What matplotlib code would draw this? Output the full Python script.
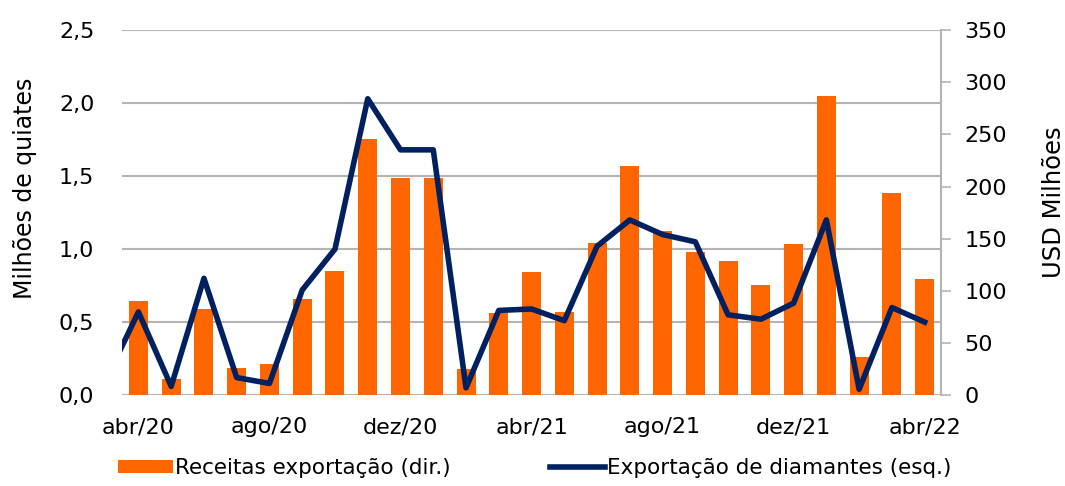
import numpy as np
import matplotlib
matplotlib.use('Agg')
import matplotlib.pyplot as plt

# meses abr/20 .. abr/22
meses = ['abr/20', 'mai/20', 'jun/20', 'jul/20', 'ago/20', 'set/20', 'out/20', 'nov/20',
         'dez/20', 'jan/21', 'fev/21', 'mar/21', 'abr/21', 'mai/21', 'jun/21', 'jul/21',
         'ago/21', 'set/21', 'out/21', 'nov/21', 'dez/21', 'jan/22', 'fev/22', 'mar/22',
         'abr/22']

# receitas de exportacao (USD milhoes, eixo direito)
receitas = [90, 15, 83, 26, 30, 92, 119, 246, 208, 208, 25, 79, 118, 80, 146, 220,
            157, 137, 129, 106, 145, 287, 37, 194, 111]

# exportacao de diamantes (milhoes de quilates, eixo esquerdo); inclui mar/20 (cortado)
diamantes_mar20 = 0.10
diamantes = [0.57, 0.06, 0.80, 0.12, 0.08, 0.72, 1.00, 2.03, 1.68, 1.68, 0.05, 0.58,
             0.59, 0.51, 1.02, 1.20, 1.10, 1.05, 0.55, 0.52, 0.63, 1.20, 0.04, 0.60,
             0.50]

laranja = '#FF6600'
azul = '#002060'
cinza = '#B4B4B4'

plt.rcParams['font.family'] = 'DejaVu Sans'

fig = plt.figure(figsize=(10.65, 4.86), dpi=100)
ax = fig.add_axes([0.1146, 0.187, 0.769, 0.751])
ax2 = ax.twinx()

x = np.arange(len(meses))

# barras no eixo direito
ax.bar(x, receitas, width=0.58, color=laranja, label='Receitas exportação (dir.)', zorder=2)
ax.set_ylim(0, 350)
ax.set_yticks(np.arange(0, 351, 50))

# grade segundo o eixo esquerdo (0,5 em 0,5)
for v in np.arange(0, 2.51, 0.5):
    ax.axhline(v * 350 / 2.5, color=cinza, lw=1.5, zorder=1)

ax.set_xlim(-0.5, len(meses) - 0.5)
ax.set_xticks(x[::4])
ax.set_xticklabels(meses[::4])

# linha no eixo esquerdo
xl = np.concatenate([[-1], x])
yl = [diamantes_mar20] + diamantes
ax2.plot(xl, yl, color=azul, lw=4, label='Exportação de diamantes (esq.)', zorder=3)
ax2.set_ylim(0, 2.5)
ax2.set_yticks(np.arange(0, 2.51, 0.5))
ax2.set_yticklabels([f'{v:.1f}'.replace('.', ',') for v in np.arange(0, 2.51, 0.5)])
ax2.set_xlim(-0.5, len(meses) - 0.5)

# posicoes dos eixos (depois do twinx)
ax.yaxis.tick_right()
ax.yaxis.set_label_position('right')
ax.set_ylabel('USD Milhões', fontsize=17.5)
ax.yaxis.set_label_coords(1.123, 0.529)
ax.tick_params(axis='y', which='both', length=7, width=1.2, color=cinza, pad=10, labelsize=16)
ax.tick_params(axis='x', length=0, pad=16, labelsize=16)

ax2.yaxis.tick_left()
ax2.yaxis.set_label_position('left')
ax2.set_ylabel('Milhões de quiates', fontsize=17)
ax2.yaxis.set_label_coords(-0.104, 0.567)
ax2.tick_params(axis='y', length=0, pad=20, labelsize=16)

for s in ['top', 'left', 'bottom']:
    ax.spines[s].set_visible(False)
ax.spines['right'].set_visible(True)
ax.spines['right'].set_color(cinza)
ax.spines['right'].set_linewidth(1.5)
for s in ax2.spines.values():
    s.set_visible(False)

h1, l1 = ax.get_legend_handles_labels()
h2, l2 = ax2.get_legend_handles_labels()
fig.legend(h1 + h2, l1 + l2, loc='center', bbox_to_anchor=(0.502, 0.037), ncol=2,
           frameon=False, fontsize=15.5, handlelength=2.55, handleheight=0.6,
           handletextpad=0.12, columnspacing=4.6)

fig.savefig('out.png', dpi=100)
